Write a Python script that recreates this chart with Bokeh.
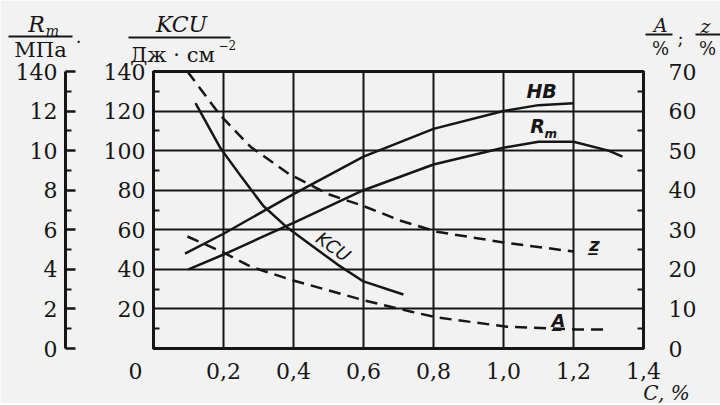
from bokeh.plotting import figure
from bokeh.layouts import column
from bokeh.models import Range1d, LinearAxis, FixedTicker, Label
from bokeh.embed import file_html
from bokeh.resources import INLINE

# ---------------- data ----------------
# x: carbon content C, %
c_ticks = [0.2, 0.4, 0.6, 0.8, 1.0, 1.2, 1.4]
c_tick_labels = ["0,2", "0,4", "0,6", "0,8", "1,0", "1,2", "1,4"]
c_grid = [0.2, 0.4, 0.6, 0.8, 1.0, 1.2]

kcu_ticks = [20, 40, 60, 80, 100, 120, 140]
kcu_minor = [10, 30, 50, 70, 90, 110, 130]
kcu_grid = [20, 40, 60, 80, 100, 120]

rm_ticks = [0, 2, 4, 6, 8, 10, 12, 14]
rm_tick_labels = ["0", "2", "4", "6", "8", "10", "12", "140"]
rm_minor = [1, 3, 5, 7, 9, 11, 13]

pct_ticks = [0, 10, 20, 30, 40, 50, 60, 70]
pct_minor = [5, 15, 25, 35, 45, 55, 65]

# HB (plotted on the KCU scale)
c_hb = [0.09, 0.2, 0.4, 0.6, 0.8, 1.0, 1.1, 1.2]
hb = [48, 58, 78, 97, 111, 120, 123, 124]

# Rm, MPa (x100) on the Rm scale
c_rm = [0.1, 0.2, 0.4, 0.6, 0.8, 1.0, 1.1, 1.2, 1.3, 1.34]
rm = [4.0, 4.75, 6.35, 8.0, 9.3, 10.15, 10.45, 10.45, 10.0, 9.7]

# KCU, J/cm^2
c_kcu = [0.12, 0.19, 0.25, 0.314, 0.383, 0.44, 0.526, 0.6, 0.714]
kcu = [124, 101.6, 87, 72, 61, 53.6, 42.4, 33.9, 27.3]

# z, % (right scale)
c_z = [0.097, 0.19, 0.277, 0.389, 0.5, 0.6, 0.706, 0.81, 1.0, 1.2]
z = [70, 59, 51, 44, 39, 36, 32.3, 29.5, 26.8, 24.5]

# A, % (right scale)
c_a = [0.097, 0.2, 0.277, 0.389, 0.6, 0.734, 0.81, 1.01, 1.21, 1.3]
a = [28.3, 24.25, 20.7, 17.45, 12.2, 9.35, 7.85, 5.5, 4.8, 4.8]

# ---------------- main figure ----------------
INK = "#161616"
BG = "#f2f2f2"
NUM_FONT = "DejaVu Serif"
W, H = 720, 403

p = figure(width=W, height=H, x_range=Range1d(0, 1.4), y_range=Range1d(0, 140),
           output_backend="svg", toolbar_location=None,
           min_border_left=153, min_border_right=W - 153 - 490, min_border_top=71,
           min_border_bottom=H - 71 - 277,
           background_fill_color=BG, border_fill_color=BG)
p.frame_align = False
p.extra_y_ranges = {"rm": Range1d(0, 14), "pct": Range1d(0, 70)}

p.outline_line_color = INK
p.outline_line_width = 3

p.xgrid.ticker = FixedTicker(ticks=c_grid)
p.ygrid.ticker = FixedTicker(ticks=kcu_grid)
for g in (p.xgrid[0], p.ygrid[0]):
    g.grid_line_color = INK
    g.grid_line_width = 2

def style_axis(ax, standoff):
    ax.axis_line_color = INK
    ax.axis_line_width = 3
    ax.major_label_standoff = standoff
    ax.major_label_text_font = NUM_FONT
    ax.major_label_text_font_size = "22px"
    ax.major_label_text_color = INK
    ax.major_tick_line_color = INK
    ax.minor_tick_line_color = INK
    ax.major_tick_out = 0
    ax.minor_tick_out = 0

# bottom axis: C, %
xa = p.xaxis[0]
xa.ticker = FixedTicker(ticks=c_ticks)
xa.major_label_overrides = dict(zip(c_ticks, c_tick_labels))
style_axis(xa, 14)
xa.major_tick_in = 0
xa.minor_tick_line_color = None

# KCU axis (next to the frame)
ka = p.yaxis[0]
ka.ticker = FixedTicker(ticks=kcu_ticks, minor_ticks=kcu_minor)
style_axis(ka, 8)
ka.major_tick_in = 0
ka.minor_tick_in = 6
ka.minor_tick_line_width = 2
ka.axis_label = " "
ka.axis_label_text_font_size = "26px"
ka.axis_label_standoff = 2

# Rm axis (outer left)
ra = LinearAxis(y_range_name="rm", ticker=FixedTicker(ticks=rm_ticks, minor_ticks=rm_minor))
ra.major_label_overrides = dict(zip(rm_ticks, rm_tick_labels))
style_axis(ra, 8)
ra.major_tick_in = 10
ra.major_tick_line_width = 2.5
ra.minor_tick_in = 6
ra.minor_tick_line_width = 2
p.add_layout(ra, "left")

# A; z axis (right)
pa = LinearAxis(y_range_name="pct", ticker=FixedTicker(ticks=pct_ticks, minor_ticks=pct_minor))
style_axis(pa, 25)
pa.major_tick_in = 0
pa.minor_tick_in = 6
pa.minor_tick_line_width = 2
p.add_layout(pa, "right")

# curves
p.line(c_hb, hb, line_color=INK, line_width=2.5)
p.line(c_rm, rm, y_range_name="rm", line_color=INK, line_width=2.5)
p.line(c_kcu, kcu, line_color=INK, line_width=2.5)
p.line(c_z, z, y_range_name="pct", line_color=INK, line_width=2.5, line_dash="12 7")
p.line(c_a, a, y_range_name="pct", line_color=INK, line_width=2.5, line_dash="12 7")

def lab(fig, x, y, text, size, font="DejaVu Sans", style="normal", angle=0.0,
        align="center", baseline="middle"):
    fig.add_layout(Label(x=x, y=y, text=text, text_font=font, text_font_style=style,
                         text_font_size=size, text_color=INK, angle=angle,
                         text_align=align, text_baseline=baseline))

# curve labels
lab(p, 1.109, 130, "HB", "19px", style="bold italic")
lab(p, 1.097, 112.5, "R", "19px", style="bold italic")
lab(p, 1.135, 108.5, "m", "12px", style="bold italic")
lab(p, 0.514, 51.5, "KCU", "18px", style="italic", angle=-0.62)
lab(p, 1.26, 52.5, "z\u0332", "18px", style="bold italic")
lab(p, 1.157, 14.0, "A\u0332", "18px", style="bold italic")

# ---------------- transparent overlay for texts outside the frame ----------------
# coordinates of the overlay are page pixels (x from the left edge, y from the top)
ov = figure(width=W, height=H, x_range=Range1d(0, W), y_range=Range1d(1 + H, 1),
            output_backend="svg", toolbar_location=None,
            x_axis_location=None, y_axis_location=None,
            min_border=0, margin=(-H, 0, 0, 0))
ov.frame_align = False
ov.background_fill_alpha = 0
ov.border_fill_alpha = 0
ov.outline_line_color = None
ov.xgrid.visible = False
ov.ygrid.visible = False

# Rm / MPa
lab(ov, 36, 25, "R", "22px", font=NUM_FONT, style="italic")
lab(ov, 52, 31, "m", "14px", font=NUM_FONT, style="italic")
lab(ov, 78, 36, ".", "18px", font=NUM_FONT)
lab(ov, 40, 50, "МПа", "21px", font=NUM_FONT)
# KCU / J cm^-2
lab(ov, 181, 25, "KCU", "22px", font=NUM_FONT, style="italic")
lab(ov, 172, 55, "Дж · см", "21px", font=NUM_FONT)
lab(ov, 218, 45, "−2", "12px", font=NUM_FONT, align="left")
# A / % ; z / %
lab(ov, 660, 25, "A", "19px", font=NUM_FONT, style="italic")
lab(ov, 660, 49, "%", "18px", font=NUM_FONT)
lab(ov, 680, 39, ";", "18px", font=NUM_FONT)
lab(ov, 705, 26, "z", "19px", font=NUM_FONT, style="italic")
lab(ov, 707, 49, "%", "18px", font=NUM_FONT)
# fraction bars
ov.segment(x0=[8, 128, 645, 695], y0=[37, 38, 35, 35],
           x1=[72, 230, 672, 720], y1=[37, 38, 35, 35], line_color=INK, line_width=2)
# corner zero and the x quantity
lab(ov, 135, 371, "0", "22px", font=NUM_FONT)
lab(ov, 666, 393, "C, %", "20px", font=NUM_FONT, style="italic")

layout = column(p, ov, spacing=0)
open("out.html", "w").write(file_html(layout, INLINE))
